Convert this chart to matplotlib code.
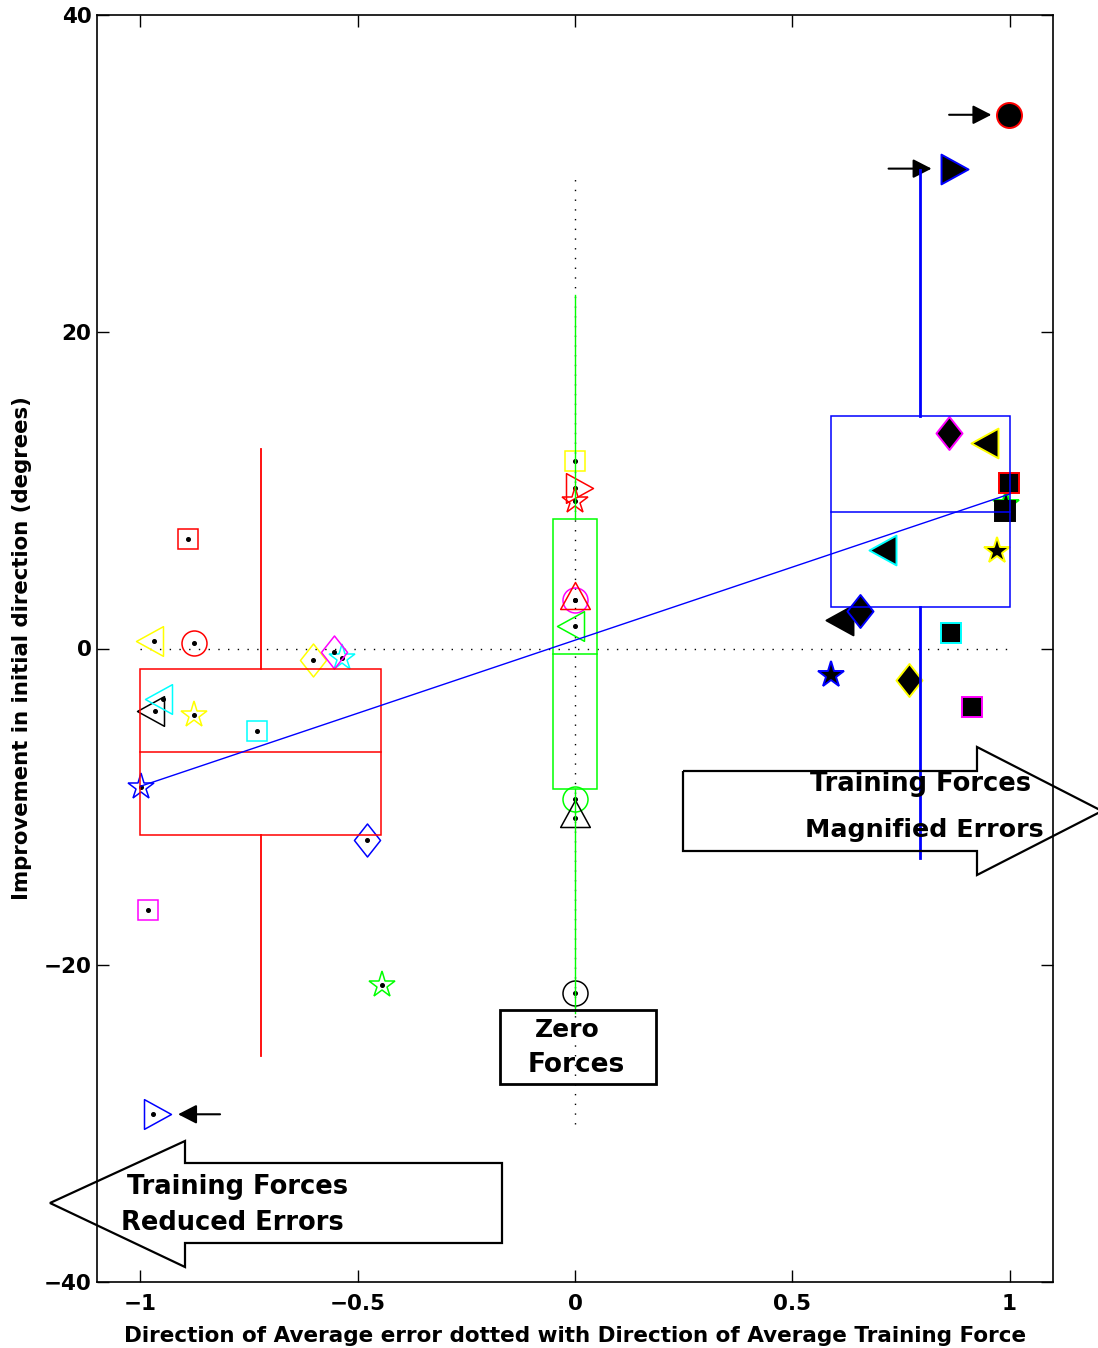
"""
Improvement in initial direction vs alignment of error and training force.
Box summaries per force group, per-subject markers, outlier arrows and
block-arrow annotations.
"""
import matplotlib
matplotlib.use("Agg")
import matplotlib.pyplot as plt
from matplotlib.patches import Polygon, Rectangle
from matplotlib.path import Path
import numpy as np

W, H = 1098, 1348
plt.rcParams["font.family"] = ["DejaVu Sans"]
plt.rcParams["font.weight"] = "bold"

# ── colours (MATLAB pure colours)
COL = {"r": "#ff0000", "g": "#00ff00", "b": "#0000ff", "c": "#00ffff",
       "m": "#ff00ff", "y": "#ffff00", "k": "#000000"}

# ── subjects with training forces that reduced errors (open markers)
left_x = [-0.890, -0.968, -0.877, -0.537, -0.602, -0.555, -0.966, -0.949,
          -0.877, -0.732, -0.998, -0.478, -0.982, -0.445, -0.971]
left_y = [6.93, 0.45, 0.35, -0.58, -0.71, -0.20, -3.92, -3.21,
          -4.17, -5.19, -8.72, -12.06, -16.48, -21.27, -29.41]
left_mk = ["s", "<", "o", "*", "d", "d", "<", "<", "*", "s", "*", "d", "s", "*", ">"]
left_col = ["r", "y", "r", "c", "y", "m", "k", "c", "y", "c", "b", "b", "m", "g", "b"]

# ── zero-force subjects (open markers, all at x = 0)
zero_x = [0, 0, 0, 0, 0, 0, 0, 0, 0]
zero_y = [11.83, 10.15, 9.31, 3.08, 3.08, 1.44, -9.52, -10.69, -21.76]
zero_mk = ["s", ">", "*", "o", "^", "<", "o", "^", "o"]
zero_col = ["y", "r", "r", "m", "r", "g", "g", "k", "k"]

# ── subjects with training forces that magnified errors (filled markers)
right_x = [0.619, 0.656, 0.861, 0.952, 0.991, 0.989, 0.999, 0.718,
           0.972, 0.866, 0.589, 0.768, 0.914, 0.999, 0.862]
right_y = [1.77, 2.38, 13.58, 12.98, 9.12, 8.66, 10.42, 6.25,
           6.15, 0.96, -1.67, -1.99, -3.67, 33.7, 30.3]
right_mk = ["<", "d", "d", "<", "*", "s", "s", "<", "*", "s", "*", "d", "s", "o", ">"]
right_col = ["k", "b", "m", "y", "g", "k", "r", "c", "y", "c", "b", "y", "m", "r", "b"]

# ── box summaries: reduced / zero / magnified
box_x0 = [-1.0, -0.05, 0.59]
box_x1 = [-0.446, 0.05, 1.0]
box_q1 = [-11.8, -8.9, 2.62]
box_med = [-6.53, -0.35, 8.61]
box_q3 = [-1.27, 8.2, 14.67]
whisk_lo = [-25.7, -23.0, -13.2]
whisk_hi = [12.6, 22.3, 30.2]
box_col = ["r", "g", "b"]

# ── regression line and reference lines
fit_x = [-1.0, 1.0]
fit_y = [-8.7, 9.75]
ref_hx = [-1.0, 1.0]
ref_vy = [-30.0, 30.0]

xticks = [-1, -0.5, 0, 0.5, 1]
xticklabels = ["\u22121", "\u22120.5", "0", "0.5", "1"]
yticks = [-40, -20, 0, 20, 40]
yticklabels = ["\u221240", "\u221220", "0", "20", "40"]


def tri(direction):
    # triangle with its centroid at the origin, like MATLAB's markers
    v = np.array([[0, 2 / 3], [-0.55, -1 / 3], [0.55, -1 / 3], [0, 2 / 3]])
    rot = {"^": 0, "<": 90, "v": 180, ">": 270}[direction]
    a = np.deg2rad(rot)
    R = np.array([[np.cos(a), -np.sin(a)], [np.sin(a), np.cos(a)]])
    return Path(v @ R.T, closed=True)


DIAMOND = Path([[0, 1], [0.79, 0], [0, -1], [-0.79, 0], [0, 1]], closed=True)
PT = 72 / 100  # points per pixel at dpi 100


def marker_spec(m):
    if m in "^<v>":
        return tri(m), 36 * PT
    if m == "d":
        return DIAMOND, 33 * PT
    if m == "s":
        return "s", 20.5 * PT
    if m == "o":
        return "o", 25 * PT
    return "*", 27.5 * PT


def px(x, y):
    return x / W, 1 - y / H


fig = plt.figure(figsize=(W / 100, H / 100), dpi=100)
ax = fig.add_axes([97 / W, 1 - 1282 / H, (1053 - 97) / W, (1282 - 15) / H])
ax.set_xlim(-1.1, 1.1)
ax.set_ylim(-40, 40)

# dotted zero reference lines
ax.plot(ref_hx, [0, 0], color="k", lw=1, ls=(0, (1, 6)), zorder=1)
ax.plot([0, 0], ref_vy, color="k", lw=1, ls=(0, (1, 6)), zorder=1)

# open markers (left and zero groups) with a centre dot
for xs, ys, mks, cs in [(left_x, left_y, left_mk, left_col),
                        (zero_x, zero_y, zero_mk, zero_col)]:
    for x, y, m, c in zip(xs, ys, mks, cs):
        mk, ms = marker_spec(m)
        ax.plot(x, y, marker=mk, ms=ms, mfc="none", mec=COL[c], mew=1.1,
                ls="none", zorder=3)
        ax.plot(x, y, marker="o", ms=2.6, color="k", ls="none", zorder=3)

# filled markers (magnified group)
for x, y, m, c in zip(right_x, right_y, right_mk, right_col):
    mk, ms = marker_spec(m)
    ax.plot(x, y, marker=mk, ms=ms, mfc="k", mec=COL[c], mew=1.4,
            ls="none", zorder=3)

# box summaries, drawn over the markers
whisk_lw = [1.3, 1.0, 2.0]
for i in range(3):
    c = COL[box_col[i]]
    xm = (box_x0[i] + box_x1[i]) / 2
    ax.add_patch(Rectangle((box_x0[i], box_q1[i]), box_x1[i] - box_x0[i],
                           box_q3[i] - box_q1[i], fill=False, ec=c, lw=1.1, zorder=4))
    ax.plot([box_x0[i], box_x1[i]], [box_med[i]] * 2, color=c, lw=1.1, zorder=4)
    ax.plot([xm, xm], [box_q3[i], whisk_hi[i]], color=c, lw=whisk_lw[i], zorder=4)
    ax.plot([xm, xm], [whisk_lo[i], box_q1[i]], color=c, lw=whisk_lw[i], zorder=4)

ax.plot(fit_x, fit_y, color=COL["b"], lw=1.0, zorder=5)

# arrows pointing at the outliers
arrow_kw = dict(arrowstyle="-|>,head_length=1.13,head_width=0.58",
                color="k", lw=1.5, mutation_scale=10)
ax.annotate("", xy=(right_x[13], right_y[13]), xytext=(-60, 0),
            textcoords="offset pixels",
            arrowprops=dict(shrinkA=0, shrinkB=17.7 * PT, **arrow_kw))
ax.annotate("", xy=(right_x[14], right_y[14]), xytext=(-61, 0),
            textcoords="offset pixels",
            arrowprops=dict(shrinkA=0, shrinkB=18 * PT, **arrow_kw))
ax.annotate("", xy=(left_x[14], left_y[14]), xytext=(67, 0),
            textcoords="offset pixels",
            arrowprops=dict(shrinkA=0, shrinkB=25 * PT, **arrow_kw))

ax.set_xticks(xticks)
ax.set_xticklabels(xticklabels)
ax.set_yticks(yticks)
ax.set_yticklabels(yticklabels)
ax.tick_params(direction="in", length=12 * PT, width=1, top=True, right=True,
               labelsize=15.5)
ax.tick_params(axis="x", pad=9)
ax.tick_params(axis="y", pad=4)
for s in ax.spines.values():
    s.set_linewidth(1.2)

ax.set_xlabel("Direction of Average error dotted with Direction of Average Training Force",
              fontsize=15.5, fontweight="bold", labelpad=8)
ax.set_ylabel("Improvement in initial direction (degrees)",
              fontsize=15.3, fontweight="bold", labelpad=8)

# block arrows and the zero-force box (figure pixels)
right_arrow = [(683, 771), (977, 771), (977, 747), (1102, 811), (977, 875),
               (977, 851), (683, 851)]
left_arrow = [(502, 1163), (185, 1163), (185, 1141), (50, 1203), (185, 1267),
              (185, 1243), (502, 1243)]
for poly in (right_arrow, left_arrow):
    fig.add_artist(Polygon([px(*p) for p in poly], closed=True, fill=False,
                           ec="k", lw=1.6, transform=fig.transFigure))
x0, y0 = px(500, 1084)
x1, y1 = px(656, 1010)
fig.add_artist(Rectangle((x0, y0), x1 - x0, y1 - y0, fill=False, ec="k", lw=2,
                         transform=fig.transFigure))

labels = [("Training Forces", 810, 791, 18.5), ("Magnified Errors", 805, 837, 18.3),
          ("Training Forces", 127, 1194, 18.5), ("Reduced Errors", 121, 1230, 18.5),
          ("Zero", 535, 1037, 18), ("Forces", 528, 1072, 19)]
for txt, lx, ly, fs in labels:
    fig.text(*px(lx, ly), txt, fontsize=fs, fontweight="bold", ha="left", va="baseline")

fig.savefig("out.png", dpi=100)
